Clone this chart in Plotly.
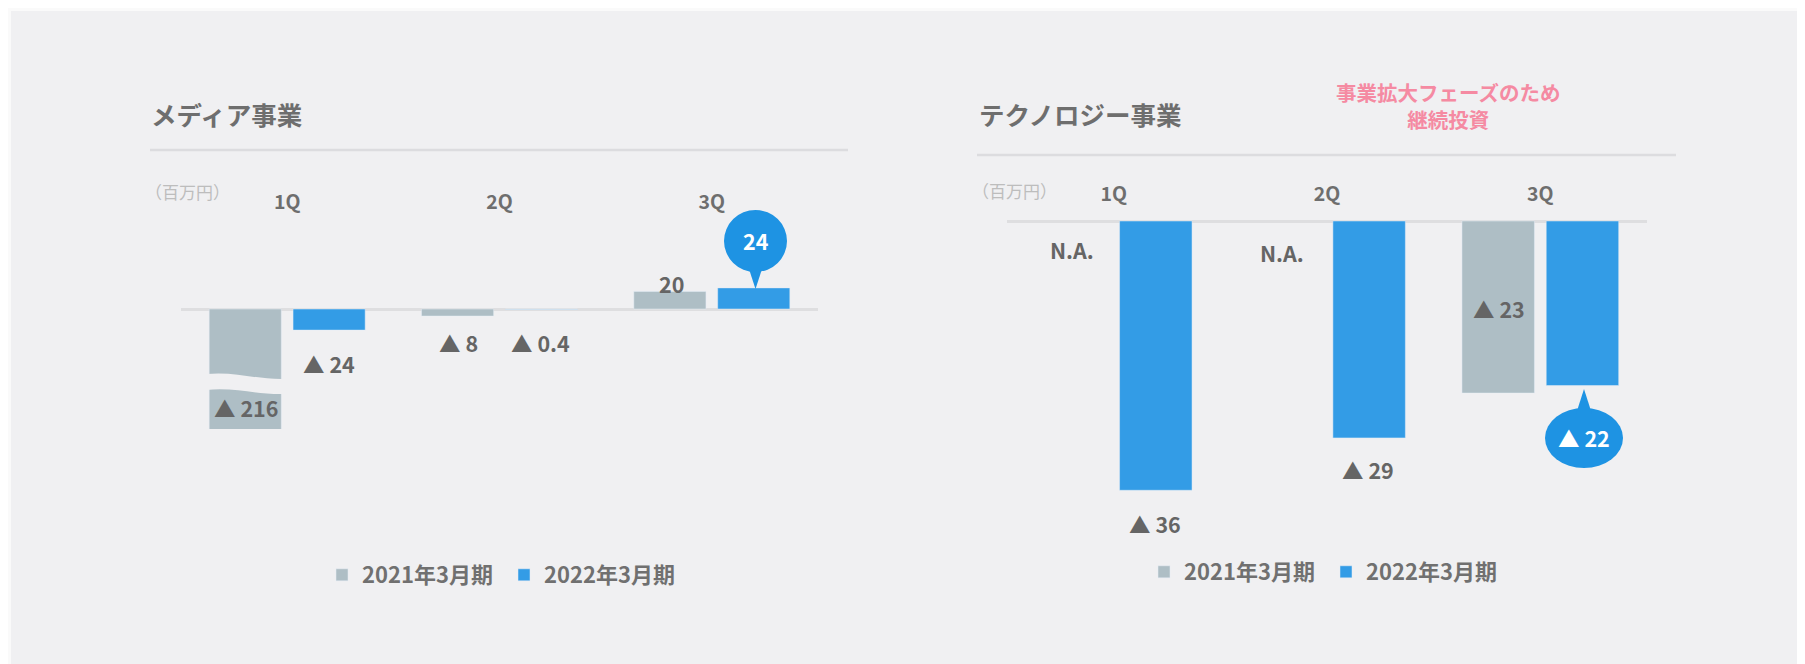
import plotly.graph_objects as go

W, H = 1805, 664
OFF = 8  # page body margin of the html page

# ---------------- data ----------------
quarters = ["1Q", "2Q", "3Q"]
series_names = ["2021年3月期", "2022年3月期"]
media_2021 = [-216, -8, 20]
media_2022 = [-24, -0.4, 24]
tech_2021 = [None, None, -23]
tech_2022 = [-36, -29, -22]
media_labels_2021 = ["▲ 216", "▲ 8", "20"]
media_labels_2022 = ["▲ 24", "▲ 0.4", "24"]
tech_labels_2021 = ["N.A.", "N.A.", "▲ 23"]
tech_labels_2022 = ["▲ 36", "▲ 29", "▲ 22"]

# ---------------- style ----------------
FONT = "Noto Sans CJK JP"
GRAY = "#AEBEC5"
BLUE = "#339CE6"
BUBBLE = "#1E93E3"
TXT = "#656565"
PANEL = "#F0F0F2"


def px(x):
    return (x - OFF) / W


def py(y):
    return 1 - (y - OFF) / H


fig = go.Figure()

fig.add_trace(go.Bar(x=quarters, y=media_2021, name=series_names[0], marker_color=GRAY,
                     xaxis="x", yaxis="y", legend="legend", hoverinfo="skip"))
fig.add_trace(go.Bar(x=quarters, y=media_2022, name=series_names[1], marker_color=BLUE,
                     xaxis="x", yaxis="y", legend="legend", hoverinfo="skip"))
fig.add_trace(go.Bar(x=quarters, y=tech_2021, name=series_names[0], marker_color=GRAY,
                     xaxis="x2", yaxis="y2", legend="legend2", hoverinfo="skip"))
fig.add_trace(go.Bar(x=quarters, y=tech_2022, name=series_names[1], marker_color=BLUE,
                     xaxis="x2", yaxis="y2", legend="legend2", hoverinfo="skip"))

xaxis_common = dict(type="category", side="top", showgrid=False, showline=False, ticks="",
                    tickfont=dict(family=FONT, size=19.5, color="#6E6E6E", weight="bold"),
                    range=[-0.5, 2.5], fixedrange=True)
yaxis_common = dict(showgrid=False, showticklabels=False, showline=False, ticks="",
                    zeroline=True, zerolinecolor="#DEDEE0", zerolinewidth=3, fixedrange=True)

shapes = []
annotations = []

# background panel
shapes.append(dict(type="rect", xref="paper", yref="paper", x0=px(11), x1=1, y0=0, y1=py(11),
                   fillcolor=PANEL, line_width=0, layer="below"))
# divider lines
shapes.append(dict(type="line", xref="paper", yref="paper", x0=px(150), x1=px(848),
                   y0=py(150), y1=py(150), line=dict(color="#DCDCDF", width=2.5)))
shapes.append(dict(type="line", xref="paper", yref="paper", x0=px(977), x1=px(1676),
                   y0=py(155), y1=py(155), line=dict(color="#DCDCDF", width=2.5)))

# break mark on the 1Q 2021 media bar
brk = [(206, 374), (236, 371), (256, 380), (286, 379), (286, 394), (256, 395), (236, 387), (206, 390)]
path = "M{},{} C{},{} {},{} {},{} L{},{} C{},{} {},{} {},{} Z".format(
    px(brk[0][0]), py(brk[0][1]), px(brk[1][0]), py(brk[1][1]), px(brk[2][0]), py(brk[2][1]),
    px(brk[3][0]), py(brk[3][1]), px(brk[4][0]), py(brk[4][1]), px(brk[5][0]), py(brk[5][1]),
    px(brk[6][0]), py(brk[6][1]), px(brk[7][0]), py(brk[7][1]))
shapes.append(dict(type="path", xref="paper", yref="paper", path=path, fillcolor=PANEL,
                   line_width=0, layer="above"))

# callout bubbles
shapes.append(dict(type="circle", xref="paper", yref="paper", x0=px(724), x1=px(787),
                   y0=py(272), y1=py(210), fillcolor=BUBBLE, line_width=0))
shapes.append(dict(type="path", xref="paper", yref="paper",
                   path=f"M{px(748)},{py(266)} L{px(763)},{py(266)} L{px(755.5)},{py(289)} Z",
                   fillcolor=BUBBLE, line_width=0))
shapes.append(dict(type="circle", xref="paper", yref="paper", x0=px(1545), x1=px(1623),
                   y0=py(468), y1=py(408), fillcolor=BUBBLE, line_width=0))
shapes.append(dict(type="path", xref="paper", yref="paper",
                   path=f"M{px(1576)},{py(414)} L{px(1592)},{py(414)} L{px(1584)},{py(389)} Z",
                   fillcolor=BUBBLE, line_width=0))


def note(text, x, y, size=21.5, color=TXT, weight="bold", xanchor="center"):
    annotations.append(dict(text=text, x=px(x), y=py(y), xref="paper", yref="paper",
                            showarrow=False, xanchor=xanchor, yanchor="middle",
                            font=dict(family=FONT, size=size, color=color, weight=weight)))


# titles
note("メディア事業", 149, 114, size=25.5, color="#6E6E6E", weight="bold", xanchor="left")
note("テクノロジー事業", 977, 114, size=25.5, color="#6E6E6E", weight="bold", xanchor="left")
note("事業拡大フェーズのため<br>継続投資", 1448, 105, size=20.5, color="#F58AA2")
note("（百万円）", 187, 191, size=17, color="#BDBDBD", weight="normal")
note("（百万円）", 1015, 190, size=17, color="#BDBDBD", weight="normal")

# media labels
note(media_labels_2021[0], 246, 407)
note(media_labels_2022[0], 329, 363)
note(media_labels_2021[1], 458, 343)
note(media_labels_2022[1], 540, 343)
note(media_labels_2021[2], 671, 283)
note(media_labels_2022[2], 755.5, 241, color="white")
# tech labels
note(tech_labels_2021[0], 1072, 249)
note(tech_labels_2021[1], 1282, 252)
note(tech_labels_2021[2], 1499, 308)
note(tech_labels_2022[0], 1155, 523)
note(tech_labels_2022[1], 1368, 469)
note(tech_labels_2022[2], 1584, 438, color="white")

legend_common = dict(orientation="h", bgcolor="rgba(0,0,0,0)", xanchor="left", yanchor="middle",
                     font=dict(family=FONT, size=22, color="#707070", weight="bold"),
                     entrywidth=137, entrywidthmode="pixels",
                     itemclick=False, itemdoubleclick=False, traceorder="normal", tracegroupgap=0)

fig.update_layout(
    width=W, height=H,
    margin=dict(l=0, r=0, t=0, b=0),
    paper_bgcolor="#FAFAFA", plot_bgcolor="rgba(0,0,0,0)",
    barmode="group", bargap=0.21, bargroupgap=0.14,
    xaxis=dict(domain=[px(181), px(818)], anchor="y", **xaxis_common),
    yaxis=dict(domain=[py(429), py(214)], anchor="x", range=[-(429 - 309) / 0.88, (309 - 214) / 0.88],
               **yaxis_common),
    xaxis2=dict(domain=[px(1007), px(1647)], anchor="y2", **xaxis_common),
    yaxis2=dict(domain=[py(500), py(206)], anchor="x2", range=[-(500 - 221) / 7.48, (221 - 206) / 7.48],
                **yaxis_common),
    legend=dict(x=px(322), y=py(575), **legend_common),
    legend2=dict(x=px(1144), y=py(572), **legend_common),
    shapes=shapes,
    annotations=annotations,
    showlegend=True,
)

fig.write_html("out.html")
